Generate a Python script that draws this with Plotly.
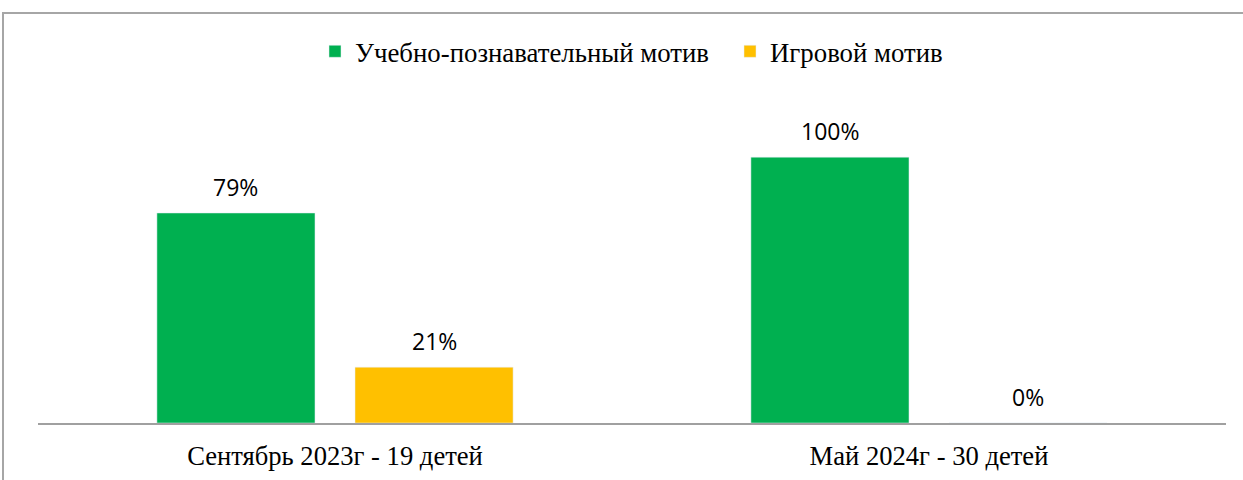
import plotly.graph_objects as go

categories = ["Сентябрь 2023г - 19 детей", "Май 2024г - 30 детей"]
series_names = ["Учебно-познавательный мотив", "Игровой мотив"]
learning = [79, 100]
play = [21, 0]
colors = ["#00B050", "#FFC000"]

W, H = 1243, 480
ml, mr, mt, mb = 38, 17, 104, 57
ymax = 120
bargap, bargroupgap = 0.333, 0.202

plot_h = H - mt - mb
plot_w = W - ml - mr
cat_w = plot_w / len(categories)
slot = cat_w * (1 - bargap) / len(series_names)

fig = go.Figure()
annotations = []
for i, (name, vals, col) in enumerate(zip(series_names, [learning, play], colors)):
    fig.add_trace(go.Bar(x=categories, y=vals, name=name, marker_color=col))
    off = (i - (len(series_names) - 1) / 2) * slot
    for c, v in zip(categories, vals):
        annotations.append(dict(x=c, y=v, xref="x", yref="y", text=f"{v}%", showarrow=False,
                                xshift=off, yshift=26, yanchor="middle", xanchor="center",
                                font=dict(family="Open Sans", size=23, color="#000000")))

fig.update_layout(
    width=W, height=H,
    margin=dict(l=ml, r=mr, t=mt, b=mb, autoexpand=False),
    plot_bgcolor="white", paper_bgcolor="white",
    barmode="group", bargap=bargap, bargroupgap=bargroupgap,
    showlegend=True,
    legend=dict(orientation="h", x=(315 - ml) / plot_w, xanchor="left", y=1.165, yanchor="middle",
                font=dict(family="Liberation Serif", size=26.8, color="#000000"),
                bgcolor="rgba(0,0,0,0)",
                entrywidth=370, entrywidthmode="pixels"),
    xaxis=dict(showline=True, linecolor="#a0a0a0", linewidth=1.5, ticks="",
               tickfont=dict(family="Liberation Serif", size=26.6, color="#000000"),
               ticklabelstandoff=8, fixedrange=True),
    yaxis=dict(range=[0, ymax], visible=False, showgrid=False, zeroline=False),
    annotations=annotations,
    shapes=[dict(type="rect", xref="paper", yref="paper",
                 x0=(3 - ml) / plot_w, x1=(W + 10 - ml) / plot_w,
                 y0=-0.5, y1=(H - mb - 13) / plot_h,
                 line=dict(color="#a6a6a6", width=2), fillcolor="rgba(0,0,0,0)", layer="below")],
)
fig.write_html("out.html")
